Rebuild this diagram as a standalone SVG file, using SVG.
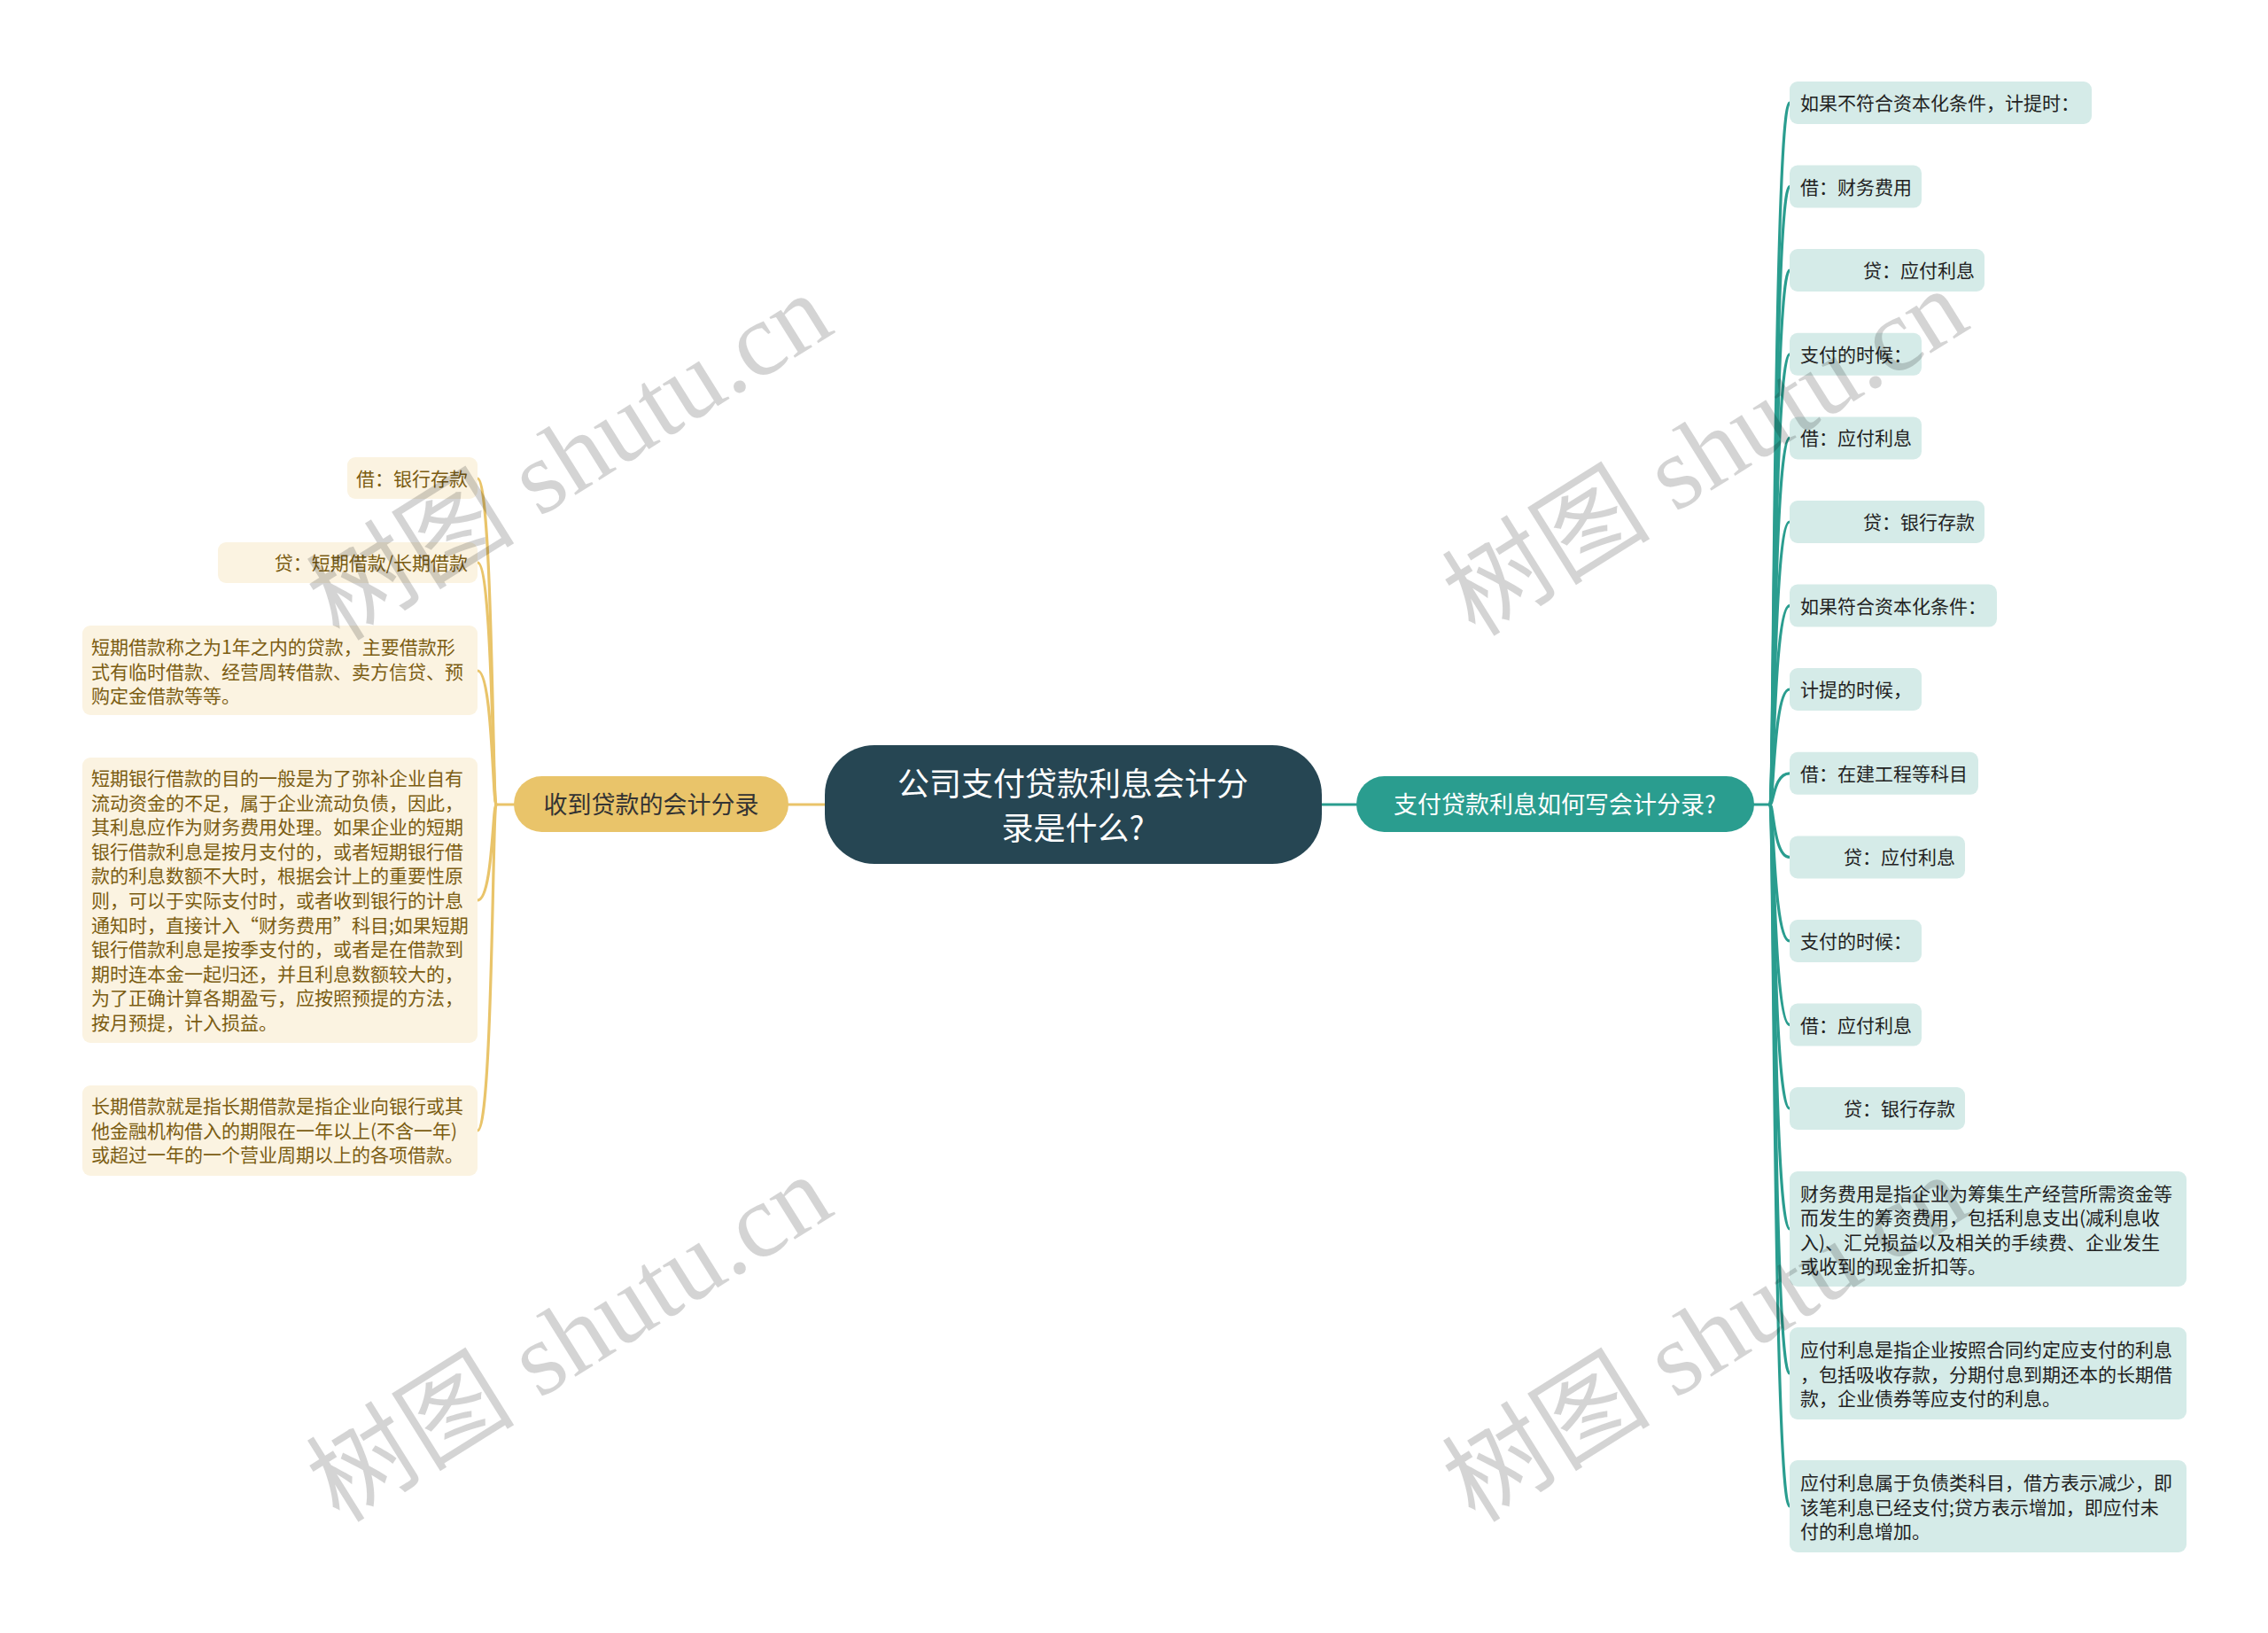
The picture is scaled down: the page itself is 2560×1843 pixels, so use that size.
<svg xmlns="http://www.w3.org/2000/svg" width="2560" height="1843" viewBox="0 0 2560 1843">
<style>
.t{font-family:"Noto Sans CJK SC","Noto Sans",sans-serif;}
.lf{fill:#fbf3e1;}
.rf{fill:#d5ebe8;}
.lt{font-size:21px;fill:#7b5d12;}
.rt{font-size:21px;fill:#222222;}
.lc{fill:none;stroke:#e9c46a;stroke-width:3.2;stroke-linecap:round;}
.rc{fill:none;stroke:#2a9d8f;stroke-width:3.2;stroke-linecap:round;}
.wm{font-family:"Liberation Serif","Noto Sans CJK SC",serif;font-size:118px;fill:#000000;fill-opacity:0.17;}
</style>
<rect width="2560" height="1843" fill="#ffffff"/>
<g id="connectors">
<path class="lc" d="M931,908 L890,908" stroke-width="4"/>
<path class="rc" d="M1491,908 L1531,908" stroke-width="4"/>
<path class="lc" d="M580,908 L560,908"/>
<path class="rc" d="M1979,908 L1998,908"/>
<path class="lc" d="M560,908 C556,908 556,540 539,540"/>
<path class="lc" d="M560,908 C556,908 556,635 539,635"/>
<path class="lc" d="M560,908 C556,908 556,757 539,757"/>
<path class="lc" d="M560,908 C556,908 556,1016 539,1016"/>
<path class="lc" d="M560,908 C556,908 556,1276 539,1276"/>
<path class="rc" d="M1998,908 C2002,908 2002,116 2020,116"/>
<path class="rc" d="M1998,908 C2002,908 2002,210.6 2020,210.6"/>
<path class="rc" d="M1998,908 C2002,908 2002,305 2020,305"/>
<path class="rc" d="M1998,908 C2002,908 2002,399.8 2020,399.8"/>
<path class="rc" d="M1998,908 C2002,908 2002,494.4 2020,494.4"/>
<path class="rc" d="M1998,908 C2002,908 2002,589 2020,589"/>
<path class="rc" d="M1998,908 C2002,908 2002,683.6 2020,683.6"/>
<path class="rc" d="M1998,908 C2002,908 2002,778 2020,778"/>
<path class="rc" d="M1998,908 C2002,908 2002,872.8 2020,872.8"/>
<path class="rc" d="M1998,908 C2002,908 2002,967.4 2020,967.4"/>
<path class="rc" d="M1998,908 C2002,908 2002,1062 2020,1062"/>
<path class="rc" d="M1998,908 C2002,908 2002,1156.6 2020,1156.6"/>
<path class="rc" d="M1998,908 C2002,908 2002,1251 2020,1251"/>
<path class="rc" d="M1998,908 C2002,908 2002,1387 2020,1387"/>
<path class="rc" d="M1998,908 C2002,908 2002,1550 2020,1550"/>
<path class="rc" d="M1998,908 C2002,908 2002,1700 2020,1700"/>
</g>
<g id="root">
<rect x="931" y="841" width="561" height="134" rx="56" fill="#264653"/>
<text class="t" x="1211" y="898" font-size="36" fill="#ffffff" text-anchor="middle">公司支付贷款利息会计分</text>
<text class="t" x="1211" y="948" font-size="36" fill="#ffffff" text-anchor="middle">录是什么?</text>
</g>
<g id="branch-left">
<rect x="580" y="876" width="310" height="63" rx="31.5" fill="#e9c46a"/>
<text class="t" x="735" y="918" font-size="27" fill="#333333" text-anchor="middle">收到贷款的会计分录</text>
</g>
<g id="branch-right">
<rect x="1531" y="876" width="449" height="63" rx="31.5" fill="#2a9d8f"/>
<text class="t" x="1755" y="918" font-size="27" fill="#ffffff" text-anchor="middle">支付贷款利息如何写会计分录?</text>
</g>
<g id="l1"><rect class="lf" x="392" y="516" width="147" height="47" rx="9"/><text class="t lt" x="528" y="548" text-anchor="end">借：银行存款</text></g>
<g id="l2"><rect class="lf" x="246" y="612" width="293" height="46" rx="9"/><text class="t lt" x="528" y="643" text-anchor="end">贷：短期借款/长期借款</text></g>
<g id="l3"><rect class="lf" x="93" y="706" width="446" height="101" rx="9"/>
<text class="t lt" x="103" y="738">短期借款称之为1年之内的贷款，主要借款形</text>
<text class="t lt" x="103" y="765.5">式有临时借款、经营周转借款、卖方信贷、预</text>
<text class="t lt" x="103" y="793">购定金借款等等。</text></g>
<g id="l4"><rect class="lf" x="93" y="855" width="446" height="322" rx="9"/>
<text class="t lt" x="103" y="886">短期银行借款的目的一般是为了弥补企业自有</text>
<text class="t lt" x="103" y="913.6">流动资金的不足，属于企业流动负债，因此，</text>
<text class="t lt" x="103" y="941.2">其利息应作为财务费用处理。如果企业的短期</text>
<text class="t lt" x="103" y="968.8">银行借款利息是按月支付的，或者短期银行借</text>
<text class="t lt" x="103" y="996.4">款的利息数额不大时，根据会计上的重要性原</text>
<text class="t lt" x="103" y="1024">则，可以于实际支付时，或者收到银行的计息</text>
<text class="t lt" x="103" y="1051.6">通知时，直接计入“财务费用”科目;如果短期</text>
<text class="t lt" x="103" y="1079.2">银行借款利息是按季支付的，或者是在借款到</text>
<text class="t lt" x="103" y="1106.8">期时连本金一起归还，并且利息数额较大的，</text>
<text class="t lt" x="103" y="1134.4">为了正确计算各期盈亏，应按照预提的方法，</text>
<text class="t lt" x="103" y="1162">按月预提，计入损益。</text></g>
<g id="l5"><rect class="lf" x="93" y="1225" width="446" height="102" rx="9"/>
<text class="t lt" x="103" y="1256">长期借款就是指长期借款是指企业向银行或其</text>
<text class="t lt" x="103" y="1283.5">他金融机构借入的期限在一年以上(不含一年)</text>
<text class="t lt" x="103" y="1311">或超过一年的一个营业周期以上的各项借款。</text></g>
<g id="r1"><rect class="rf" x="2020" y="92" width="341" height="48" rx="9"/><text class="t rt" x="2032" y="124">如果不符合资本化条件，计提时：</text></g>
<g id="r2"><rect class="rf" x="2020" y="186.6" width="149" height="48" rx="9"/><text class="t rt" x="2032" y="218.6">借：财务费用</text></g>
<g id="r3"><rect class="rf" x="2020" y="281" width="220" height="48" rx="9"/><text class="t rt" x="2229" y="313" text-anchor="end">贷：应付利息</text></g>
<g id="r4"><rect class="rf" x="2020" y="375.8" width="149" height="48" rx="9"/><text class="t rt" x="2032" y="407.8">支付的时候：</text></g>
<g id="r5"><rect class="rf" x="2020" y="470.4" width="149" height="48" rx="9"/><text class="t rt" x="2032" y="502.4">借：应付利息</text></g>
<g id="r6"><rect class="rf" x="2020" y="565" width="220" height="48" rx="9"/><text class="t rt" x="2229" y="597" text-anchor="end">贷：银行存款</text></g>
<g id="r7"><rect class="rf" x="2020" y="659.6" width="234" height="48" rx="9"/><text class="t rt" x="2032" y="691.6">如果符合资本化条件：</text></g>
<g id="r8"><rect class="rf" x="2020" y="754" width="149" height="48" rx="9"/><text class="t rt" x="2032" y="786">计提的时候，</text></g>
<g id="r9"><rect class="rf" x="2020" y="848.8" width="213" height="48" rx="9"/><text class="t rt" x="2032" y="880.8">借：在建工程等科目</text></g>
<g id="r10"><rect class="rf" x="2020" y="943.4" width="198" height="48" rx="9"/><text class="t rt" x="2207" y="975.4" text-anchor="end">贷：应付利息</text></g>
<g id="r11"><rect class="rf" x="2020" y="1038" width="149" height="48" rx="9"/><text class="t rt" x="2032" y="1070">支付的时候：</text></g>
<g id="r12"><rect class="rf" x="2020" y="1132.6" width="149" height="48" rx="9"/><text class="t rt" x="2032" y="1164.6">借：应付利息</text></g>
<g id="r13"><rect class="rf" x="2020" y="1227" width="198" height="48" rx="9"/><text class="t rt" x="2207" y="1259" text-anchor="end">贷：银行存款</text></g>
<g id="r14"><rect class="rf" x="2020" y="1322" width="448" height="130" rx="9"/>
<text class="t rt" x="2032" y="1355">财务费用是指企业为筹集生产经营所需资金等</text>
<text class="t rt" x="2032" y="1382.3">而发生的筹资费用，包括利息支出(减利息收</text>
<text class="t rt" x="2032" y="1409.6">入)、汇兑损益以及相关的手续费、企业发生</text>
<text class="t rt" x="2032" y="1436.9">或收到的现金折扣等。</text></g>
<g id="r15"><rect class="rf" x="2020" y="1498" width="448" height="104" rx="9"/>
<text class="t rt" x="2032" y="1531">应付利息是指企业按照合同约定应支付的利息</text>
<text class="t rt" x="2032" y="1558.5">，包括吸收存款，分期付息到期还本的长期借</text>
<text class="t rt" x="2032" y="1586">款，企业债券等应支付的利息。</text></g>
<g id="r16"><rect class="rf" x="2020" y="1648" width="448" height="104" rx="9"/>
<text class="t rt" x="2032" y="1681">应付利息属于负债类科目，借方表示减少，即</text>
<text class="t rt" x="2032" y="1708.5">该笔利息已经支付;贷方表示增加，即应付未</text>
<text class="t rt" x="2032" y="1736">付的利息增加。</text></g>
<g id="watermarks">
<text class="wm" x="645" y="555" text-anchor="middle" transform="rotate(-32 645 519)">树图 shutu.cn</text>
<text class="wm" x="1927" y="550" text-anchor="middle" transform="rotate(-32 1927 514)">树图 shutu.cn</text>
<text class="wm" x="645" y="1550" text-anchor="middle" transform="rotate(-32 645 1514)">树图 shutu.cn</text>
<text class="wm" x="1927" y="1550" text-anchor="middle" transform="rotate(-32 1927 1514)">树图 shutu.cn</text>
</g>
</svg>
